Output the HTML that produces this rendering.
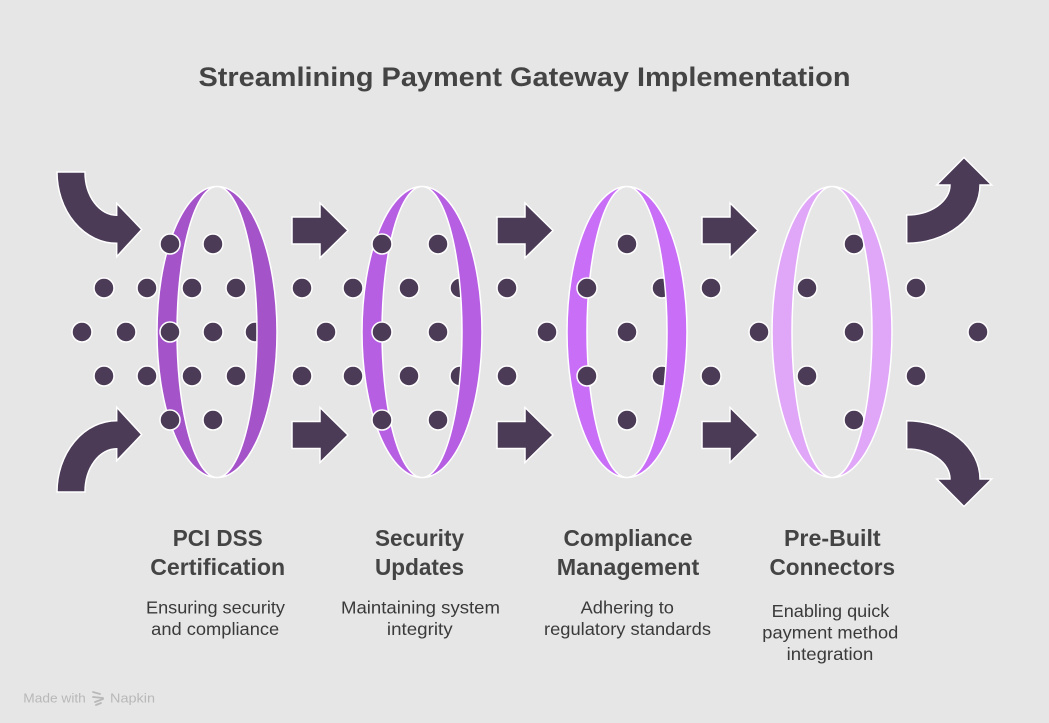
<!DOCTYPE html>
<html>
<head>
<meta charset="utf-8">
<style>
  html, body { margin: 0; padding: 0; background: #e6e6e6; }
  svg { display: block; }
  text { font-family: "Liberation Sans", "DejaVu Sans", sans-serif; }
</style>
</head>
<body>
<svg width="1049" height="723" viewBox="0 0 1049 723" xmlns="http://www.w3.org/2000/svg">
  <rect x="0" y="0" width="1049" height="723" fill="#e6e6e6"/>

  <!-- Title -->
  <text x="524.5" y="86" text-anchor="middle" font-size="27" font-weight="bold" fill="#444444" textLength="652" lengthAdjust="spacingAndGlyphs">Streamlining Payment Gateway Implementation</text>

  <g stroke="#ffffff" stroke-width="1.5" fill="#4b3b57">
    <!-- Left curved arrows -->
    <path d="M57,172 H85 A31.7 43.3 0 0 0 116.7,215.3 V203.3 L141.7,229.5 L116.7,256.7 V243.3 A59.7 71.3 0 0 1 57,172 Z"/>
    <path d="M57,492 H85 A31.7 43.3 0 0 1 116.7,448.7 V460.7 L141.7,434.5 L116.7,407.3 V420.7 A59.7 71.3 0 0 0 57,492 Z"/>

    <!-- Straight arrows -->
    <path d="M292,217 H320 V203 L348,230.5 L320,258 V244 H292 Z"/>
    <path d="M292,421.5 H320 V407.5 L348,435 L320,462.5 V448.5 H292 Z"/>
    <path d="M497,217 H525 V203 L553,230.5 L525,258 V244 H497 Z"/>
    <path d="M497,421.5 H525 V407.5 L553,435 L525,462.5 V448.5 H497 Z"/>
    <path d="M702,217 H730 V203 L758,230.5 L730,258 V244 H702 Z"/>
    <path d="M702,421.5 H730 V407.5 L758,435 L730,462.5 V448.5 H702 Z"/>

    <!-- Right curved arrows -->
    <path d="M906.7,215 A43.3 30 0 0 0 950,185 H936.7 L964,157.5 L991.7,185 H980 A73.3 58.3 0 0 1 906.7,243.3 Z"/>
    <path d="M906.7,449 A43.3 30 0 0 1 950,479 H936.7 L964,506.5 L991.7,479 H980 A73.3 58.3 0 0 0 906.7,420.7 Z"/>

    <!-- Dots behind rings (right band) -->
    <circle cx="255" cy="332" r="10"/>
    <circle cx="460" cy="288" r="10"/>
    <circle cx="460" cy="376" r="10"/>
    <circle cx="662" cy="288" r="10"/>
    <circle cx="662" cy="376" r="10"/>
    <circle cx="854" cy="244" r="10"/>
    <circle cx="854" cy="420" r="10"/>

    <!-- Free dots -->
    <circle cx="213" cy="244" r="10"/>
    <circle cx="104" cy="288" r="10"/>
    <circle cx="147" cy="288" r="10"/>
    <circle cx="192" cy="288" r="10"/>
    <circle cx="236" cy="288" r="10"/>
    <circle cx="82" cy="332" r="10"/>
    <circle cx="126" cy="332" r="10"/>
    <circle cx="213" cy="332" r="10"/>
    <circle cx="104" cy="376" r="10"/>
    <circle cx="147" cy="376" r="10"/>
    <circle cx="192" cy="376" r="10"/>
    <circle cx="236" cy="376" r="10"/>
    <circle cx="213" cy="420" r="10"/>

    <circle cx="302" cy="288" r="10"/>
    <circle cx="353" cy="288" r="10"/>
    <circle cx="326" cy="332" r="10"/>
    <circle cx="302" cy="376" r="10"/>
    <circle cx="353" cy="376" r="10"/>
    <circle cx="438" cy="244" r="10"/>
    <circle cx="409" cy="288" r="10"/>
    <circle cx="438" cy="332" r="10"/>
    <circle cx="409" cy="376" r="10"/>
    <circle cx="438" cy="420" r="10"/>

    <circle cx="507" cy="288" r="10"/>
    <circle cx="507" cy="376" r="10"/>
    <circle cx="547" cy="332" r="10"/>
    <circle cx="627" cy="244" r="10"/>
    <circle cx="627" cy="332" r="10"/>
    <circle cx="627" cy="420" r="10"/>
    <circle cx="711" cy="288" r="10"/>
    <circle cx="711" cy="376" r="10"/>

    <circle cx="759" cy="332" r="10"/>
    <circle cx="807" cy="288" r="10"/>
    <circle cx="807" cy="376" r="10"/>
    <circle cx="854" cy="332" r="10"/>
    <circle cx="916" cy="288" r="10"/>
    <circle cx="916" cy="376" r="10"/>
    <circle cx="978" cy="332" r="10"/>
  </g>

  <!-- Rings -->
  <g stroke="#ffffff" stroke-width="1.5">
    <path fill="#a453c9" d="M217,186.5 A60 145.5 0 0 0 217,477.5 A40 145.5 0 0 1 217,186.5 Z"/>
    <path fill="#a453c9" d="M217,186.5 A60 145.5 0 0 1 217,477.5 A40 145.5 0 0 0 217,186.5 Z"/>
    <path fill="#b75fe3" d="M422,186.5 A60 145.5 0 0 0 422,477.5 A40 145.5 0 0 1 422,186.5 Z"/>
    <path fill="#b75fe3" d="M422,186.5 A60 145.5 0 0 1 422,477.5 A40 145.5 0 0 0 422,186.5 Z"/>
    <path fill="#c96ef7" d="M627,186.5 A60 145.5 0 0 0 627,477.5 A40 145.5 0 0 1 627,186.5 Z"/>
    <path fill="#c96ef7" d="M627,186.5 A60 145.5 0 0 1 627,477.5 A40 145.5 0 0 0 627,186.5 Z"/>
    <path fill="#e0a7f8" d="M832,186.5 A60 145.5 0 0 0 832,477.5 A40 145.5 0 0 1 832,186.5 Z"/>
    <path fill="#e0a7f8" d="M832,186.5 A60 145.5 0 0 1 832,477.5 A40 145.5 0 0 0 832,186.5 Z"/>
  </g>

  <!-- Dots in front of rings (left band) -->
  <g stroke="#ffffff" stroke-width="1.5" fill="#4b3b57">
    <circle cx="170" cy="244" r="10"/>
    <circle cx="170" cy="332" r="10"/>
    <circle cx="170" cy="420" r="10"/>
    <circle cx="382" cy="244" r="10"/>
    <circle cx="382" cy="332" r="10"/>
    <circle cx="382" cy="420" r="10"/>
    <circle cx="587" cy="288" r="10"/>
    <circle cx="587" cy="376" r="10"/>
  </g>

  <!-- Labels -->
  <g font-weight="bold" font-size="23.5" fill="#444444" text-anchor="middle">
    <text x="217.7" y="546" textLength="90" lengthAdjust="spacingAndGlyphs">PCI DSS</text>
    <text x="217.7" y="575" textLength="135" lengthAdjust="spacingAndGlyphs">Certification</text>
    <text x="419.5" y="546" textLength="89" lengthAdjust="spacingAndGlyphs">Security</text>
    <text x="419.5" y="575" textLength="89" lengthAdjust="spacingAndGlyphs">Updates</text>
    <text x="628" y="546" textLength="129" lengthAdjust="spacingAndGlyphs">Compliance</text>
    <text x="628" y="575" textLength="142.5" lengthAdjust="spacingAndGlyphs">Management</text>
    <text x="832.3" y="546" textLength="96.7" lengthAdjust="spacingAndGlyphs">Pre-Built</text>
    <text x="832.3" y="575" textLength="125.7" lengthAdjust="spacingAndGlyphs">Connectors</text>
  </g>

  <!-- Descriptions -->
  <g font-size="17.5" fill="#3a3a3a" text-anchor="middle">
    <text x="215.5" y="613.5" textLength="139" lengthAdjust="spacingAndGlyphs">Ensuring security</text>
    <text x="215.2" y="635" textLength="128" lengthAdjust="spacingAndGlyphs">and compliance</text>
    <text x="420.5" y="613.5" textLength="159" lengthAdjust="spacingAndGlyphs">Maintaining system</text>
    <text x="419.8" y="635" textLength="65.7" lengthAdjust="spacingAndGlyphs">integrity</text>
    <text x="627.3" y="613.5" textLength="93.3" lengthAdjust="spacingAndGlyphs">Adhering to</text>
    <text x="627.5" y="635" textLength="167" lengthAdjust="spacingAndGlyphs">regulatory standards</text>
    <text x="830.5" y="617" textLength="117.6" lengthAdjust="spacingAndGlyphs">Enabling quick</text>
    <text x="830.3" y="638.5" textLength="136" lengthAdjust="spacingAndGlyphs">payment method</text>
    <text x="830" y="660" textLength="86.6" lengthAdjust="spacingAndGlyphs">integration</text>
  </g>

  <!-- Made with Napkin -->
  <text x="23.3" y="702.5" font-size="13" fill="#b8b8b8" textLength="62.5" lengthAdjust="spacingAndGlyphs">Made with</text>
  <g stroke="#b8b8b8" stroke-width="1.8" stroke-linecap="round" fill="none">
    <path d="M93,692 L100,694"/>
    <path d="M93,697 L103,698"/>
    <path d="M95,702 L103,699"/>
    <path d="M96,705 L101,703"/>
  </g>
  <text x="110" y="702.5" font-size="13" fill="#b8b8b8" textLength="45" lengthAdjust="spacingAndGlyphs">Napkin</text>
</svg>
</body>
</html>
